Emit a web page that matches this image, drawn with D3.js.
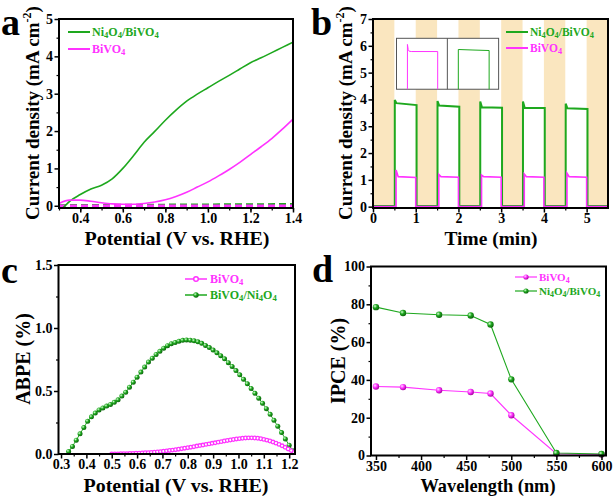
<!DOCTYPE html>
<html>
<head>
<meta charset="utf-8">
<script src="https://cdn.jsdelivr.net/npm/d3@7"></script>
<style>
body { margin: 0; background: #fff; }
text { font-family: "Liberation Serif", "Times New Roman", serif; font-weight: bold; }
</style>
</head>
<body>
<svg id="fig" width="614" height="496"></svg>
<script>
const GREEN = '#1ea81e', PINK = '#ff33ff', STRIPE = '#fae6bf';

// ---- panel a: LSV curves
let lsvNiV = [0.32, 0.35, 0.40, 0.45, 0.50, 0.55, 0.60, 0.65, 0.70, 0.75, 0.80, 0.85, 0.90, 0.95, 1.00, 1.05, 1.10, 1.15, 1.20, 1.25, 1.30, 1.35, 1.40];
let lsvNiJ = [-0.05, 0.12, 0.30, 0.45, 0.55, 0.72, 1.00, 1.34, 1.70, 1.99, 2.29, 2.56, 2.80, 2.99, 3.16, 3.33, 3.49, 3.66, 3.83, 3.96, 4.10, 4.24, 4.38];
let lsvBiV = [0.30, 0.35, 0.40, 0.45, 0.50, 0.55, 0.60, 0.65, 0.70, 0.75, 0.80, 0.85, 0.90, 0.95, 1.00, 1.05, 1.10, 1.15, 1.20, 1.25, 1.30, 1.35, 1.40];
let lsvBiJ = [0.06, 0.15, 0.15, 0.12, 0.08, 0.05, 0.04, 0.04, 0.06, 0.10, 0.16, 0.25, 0.36, 0.50, 0.64, 0.80, 0.97, 1.16, 1.37, 1.58, 1.80, 2.05, 2.32];
let darkV = [0.30, 1.40];
let darkNiJ = [0.01, 0.04];
let darkBiJ = [0.0, 0.0];

// ---- panel b: chopped light
let lightOff = [[0, 0.5], [1, 1.5], [2, 2.5], [3, 3.5], [4, 4.5], [5, 5.5]];
let niOn = [0.51, 1.51, 2.51, 3.51, 4.51];
let niOff = [1.02, 2.02, 3.02, 4.02, 5.02];
let niSpike = [3.98, 3.94, 3.92, 3.92, 3.84];
let niStart = [3.86, 3.77, 3.71, 3.69, 3.67];
let niEnd = [3.79, 3.73, 3.69, 3.68, 3.64];
let biOn = [0.54, 1.54, 2.54, 3.54, 4.54];
let biOff = [1.00, 2.00, 3.00, 4.00, 5.00];
let biSpike = [1.37, 1.20, 1.18, 1.22, 1.25];
let biStart = [1.12, 1.12, 1.12, 1.12, 1.12];
let biEnd = [1.09, 1.10, 1.10, 1.10, 1.10];
let niDark = 0.02, biDark = 0.0;
// inset transients (normalised time / current)
let insetBiT = [0.215, 0.215, 0.23, 0.25, 0.30, 0.81, 0.81];
let insetBiJ = [-0.1, 0.88, 0.78, 0.745, 0.74, 0.74, -0.1];
let insetNiT = [0.214, 0.214, 0.50, 0.815, 0.815];
let insetNiJ = [-0.1, 0.78, 0.77, 0.76, -0.1];

// ---- panel c: ABPE
let abpeNiV = [0.330, 0.345, 0.360, 0.375, 0.390, 0.405, 0.420, 0.435, 0.450, 0.465, 0.480, 0.495, 0.510, 0.525, 0.540, 0.555, 0.570, 0.585, 0.600, 0.615,
  0.630, 0.645, 0.660, 0.675, 0.690, 0.705, 0.720, 0.735, 0.750, 0.765, 0.780, 0.795, 0.810, 0.825, 0.840, 0.855, 0.870, 0.885, 0.900, 0.915,
  0.930, 0.945, 0.960, 0.975, 0.990, 1.005, 1.020, 1.035, 1.050, 1.065, 1.080, 1.095, 1.110, 1.125, 1.140, 1.155, 1.170, 1.185, 1.200, 1.215];
let abpeNi = [0.02, 0.06, 0.11, 0.16, 0.21, 0.26, 0.295, 0.325, 0.35, 0.365, 0.38, 0.393, 0.41, 0.43, 0.46, 0.49, 0.53, 0.57, 0.61, 0.65,
  0.69, 0.73, 0.76, 0.79, 0.815, 0.84, 0.86, 0.875, 0.885, 0.895, 0.902, 0.905, 0.903, 0.898, 0.89, 0.878, 0.862, 0.845, 0.825, 0.803,
  0.78, 0.755, 0.725, 0.695, 0.662, 0.628, 0.593, 0.557, 0.52, 0.482, 0.443, 0.403, 0.36, 0.315, 0.268, 0.22, 0.17, 0.12, 0.07, 0.025];
let abpeBiV = [0.500, 0.512, 0.524, 0.536, 0.548, 0.560, 0.572, 0.584, 0.596, 0.608, 0.620, 0.632, 0.644, 0.656, 0.668, 0.680, 0.692, 0.704, 0.716, 0.728,
  0.740, 0.752, 0.764, 0.776, 0.788, 0.800, 0.812, 0.824, 0.836, 0.848, 0.860, 0.872, 0.884, 0.896, 0.908, 0.920, 0.932, 0.944, 0.956, 0.968,
  0.980, 0.992, 1.004, 1.016, 1.028, 1.040, 1.052, 1.064, 1.076, 1.088, 1.100, 1.112, 1.124, 1.136, 1.148, 1.160, 1.172, 1.184, 1.196, 1.208, 1.220];
let abpeBi = [0.000, 0.001, 0.001, 0.002, 0.002, 0.003, 0.004, 0.005, 0.006, 0.007, 0.008, 0.010, 0.011, 0.013, 0.015, 0.017, 0.019, 0.022, 0.025, 0.028,
  0.031, 0.034, 0.038, 0.042, 0.046, 0.050, 0.054, 0.058, 0.063, 0.067, 0.071, 0.076, 0.080, 0.085, 0.089, 0.094, 0.098, 0.103, 0.107, 0.111,
  0.115, 0.119, 0.122, 0.125, 0.127, 0.128, 0.128, 0.127, 0.125, 0.121, 0.116, 0.110, 0.103, 0.095, 0.086, 0.076, 0.065, 0.053, 0.040, 0.027, 0.012];

// ---- panel d: IPCE
let wavelengths = [350, 380, 420, 455, 477, 500, 550, 600];
let ipceBi = [36.5, 36.2, 34.5, 33.6, 32.8, 21.3, 1.0, 0.5];
let ipceNi = [78.5, 75.4, 74.5, 74.1, 69.3, 40.3, 1.3, 0.8];

const svg = d3.select('#fig');
const defs = svg.append('defs');
[['ballG', '#d8ffd8', GREEN, '#0b5e0b'], ['ballP', '#ffe0ff', PINK, '#a0009a']].forEach(([id, a, b, c]) => {
  let gr = defs.append('radialGradient').attr('id', id).attr('cx', '35%').attr('cy', '35%').attr('r', '70%');
  gr.append('stop').attr('offset', '0%').attr('stop-color', a);
  gr.append('stop').attr('offset', '45%').attr('stop-color', b);
  gr.append('stop').attr('offset', '100%').attr('stop-color', c);
});

// frame, ticks and labels of one panel
let axes = (g, x, y, o) => {
  let [xl, xr] = x.range(), [yb, yt] = y.range();
  let style = (s) => {
    s.select('.domain').remove();
    s.selectAll('.tick line').attr('stroke', '#000').attr('stroke-width', 1.5);
    s.selectAll('.tick text').attr('font-size', 14).attr('fill', '#000')
      .style('font-family', '"Liberation Serif", serif').style('font-weight', 'bold');
  };
  let minor = (s) => { s.select('.domain').remove(); s.selectAll('text').remove();
    s.selectAll('.tick line').attr('stroke', '#000').attr('stroke-width', 1.2); };
  g.append('g').attr('transform', `translate(0,${yb})`)
    .call(d3.axisBottom(x).tickValues(o.xMinor).tickSize(2.5)).call(minor);
  g.append('g').attr('transform', `translate(0,${yb})`)
    .call(d3.axisBottom(x).tickValues(o.xTicks).tickSize(4.5).tickPadding(1).tickFormat(o.xFmt)).call(style);
  g.append('g').attr('transform', `translate(${xl},0)`)
    .call(d3.axisLeft(y).tickValues(o.yMinor).tickSize(2.5)).call(minor);
  g.append('g').attr('transform', `translate(${xl},0)`)
    .call(d3.axisLeft(y).tickValues(o.yTicks).tickSize(4.5).tickPadding(1.5).tickFormat(o.yFmt)).call(style);
  g.append('rect').attr('x', xl).attr('y', yt).attr('width', xr - xl).attr('height', yb - yt)
    .attr('fill', 'none').attr('stroke', '#000').attr('stroke-width', 2);
};

let clip = (id, x, y) => {
  let [xl, xr] = x.range(), [yb, yt] = y.range();
  defs.append('clipPath').attr('id', id).append('rect')
    .attr('x', xl).attr('y', yt).attr('width', xr - xl).attr('height', yb - yt);
  return `url(#${id})`;
};

// text with chemical subscripts (digits smaller, slightly lowered)
let chem = (t, s) => {
  let low = false;
  s.split(/(\d)/).filter(p => p).forEach(p => {
    let isD = /\d/.test(p);
    let ts = t.append('tspan').text(p);
    if (isD) { ts.attr('font-size', '72%'); if (!low) ts.attr('dy', 1.5); low = true; }
    else if (low) { ts.attr('dy', -1.5); low = false; }
  });
  return t;
};

let yTitleCurrent = (g, cx, cy) => {
  let t = g.append('text').attr('transform', `translate(${cx},${cy}) rotate(-90)`)
    .attr('text-anchor', 'middle').attr('font-size', 19);
  t.append('tspan').text('Current density (mA cm');
  t.append('tspan').attr('font-size', 12).attr('dy', -8).text('-2');
  t.append('tspan').attr('dy', 8).text(')');
};

let title = (g, txt, cx, cy, rot, len) => {
  let t = g.append('text')
    .attr('transform', `translate(${cx},${cy})` + (rot ? ' rotate(-90)' : ''))
    .attr('text-anchor', 'middle').attr('font-size', rot ? 20 : 19).text(txt);
  if (len) t.attr('textLength', len).attr('lengthAdjust', 'spacingAndGlyphs');
  return t;
};

let letter = (txt, x, y) => svg.append('text').attr('x', x).attr('y', y).attr('font-size', 38).text(txt);

let lineLegend = (g, x, y, color, label, marker, fs = 12) => {
  g.append('line').attr('x1', x).attr('x2', x + 22).attr('y1', y).attr('y2', y)
    .attr('stroke', color).attr('stroke-width', marker ? 1.2 : 2);
  if (marker) g.append('circle').attr('cx', x + 11).attr('cy', y).attr('r', 2.6).attr('fill', marker);
  chem(g.append('text').attr('x', x + 24).attr('y', y + 4).attr('font-size', fs).attr('fill', color), label);
};

// ================= a
{
  let g = svg.append('g');
  let x = d3.scaleLinear().domain([0.3, 1.4]).range([59, 293]);
  let y = d3.scaleLinear().domain([-0.06, 5]).range([208, 19]);
  let cp = clip('clipA', x, y);
  let line = d3.line().x(d => x(d[0])).y(d => y(d[1])).curve(d3.curveMonotoneX);
  let data = g.append('g').attr('clip-path', cp);
  data.append('path').datum(d3.zip(darkV, darkNiJ)).attr('d', line).attr('fill', 'none')
    .attr('stroke', GREEN).attr('stroke-width', 2.5).attr('stroke-dasharray', '7,4');
  data.append('path').datum(d3.zip(darkV, darkBiJ)).attr('d', line).attr('fill', 'none')
    .attr('stroke', PINK).attr('stroke-width', 2.5).attr('stroke-dasharray', '7,4');
  data.append('path').datum(d3.zip(lsvNiV, lsvNiJ)).attr('d', line).attr('fill', 'none')
    .attr('stroke', GREEN).attr('stroke-width', 1.6);
  data.append('path').datum(d3.zip(lsvBiV, lsvBiJ)).attr('d', line).attr('fill', 'none')
    .attr('stroke', PINK).attr('stroke-width', 1.6);
  axes(g, x, y, {
    xTicks: [0.4, 0.6, 0.8, 1.0, 1.2, 1.4], xMinor: d3.range(0.3, 1.41, 0.1), xFmt: d3.format('.1f'),
    yTicks: [0, 1, 2, 3, 4, 5], yMinor: d3.range(0.5, 5, 1), yFmt: d3.format('d')
  });
  lineLegend(g, 68, 32, GREEN, 'Ni4O4/BiVO4');
  lineLegend(g, 68, 49, PINK, 'BiVO4');
  yTitleCurrent(g, 39, 113);
  title(g, 'Potential (V vs. RHE)', 177, 245, false, 185);
  letter('a', 1, 35);
}

// ================= b
{
  let g = svg.append('g');
  let x = d3.scaleLinear().domain([0, 5.5]).range([373, 608]);
  let y = d3.scaleLinear().domain([-0.05, 7]).range([208, 19]);
  let cp = clip('clipB', x, y);
  let data = g.append('g').attr('clip-path', cp);
  data.selectAll('rect.dark').data(lightOff).enter().append('rect')
    .attr('x', d => x(d[0])).attr('width', d => x(d[1]) - x(d[0]))
    .attr('y', y.range()[1]).attr('height', y.range()[0] - y.range()[1]).attr('fill', STRIPE);
  let line = d3.line().x(d => x(d[0])).y(d => y(d[1]));
  let trace = (on, off, spike, start, end, base, decay) => {
    let pts = [[0, base]];
    on.forEach((t, i) => {
      pts.push([t, base], [t, spike[i]], [t + decay, start[i]], [off[i], end[i]], [off[i], base]);
    });
    pts.push([5.5, base]);
    return pts;
  };
  data.append('path').datum(trace(niOn, niOff, niSpike, niStart, niEnd, niDark, 0.04)).attr('d', line)
    .attr('fill', 'none').attr('stroke', GREEN).attr('stroke-width', 2);
  data.append('path').datum(trace(biOn, biOff, biSpike, biStart, biEnd, biDark, 0.05)).attr('d', line)
    .attr('fill', 'none').attr('stroke', PINK).attr('stroke-width', 1.6);

  // inset
  let ix0 = x(0.55), ix1 = x(2.94), iy0 = y(6.28), iy1 = y(4.38), imid = x(1.74);
  g.append('rect').attr('x', ix0).attr('y', iy0).attr('width', ix1 - ix0).attr('height', iy1 - iy0)
    .attr('fill', '#fff').attr('stroke', '#555').attr('stroke-width', 1);
  g.append('line').attr('x1', imid).attr('x2', imid).attr('y1', iy0).attr('y2', iy1).attr('stroke', '#555');
  let iy = d3.scaleLinear().domain([0, 1]).range([iy1, iy0]);
  let ixL = d3.scaleLinear().domain([0, 1]).range([ix0, imid]);
  let ixR = d3.scaleLinear().domain([0, 1]).range([imid, ix1]);
  defs.append('clipPath').attr('id', 'clipInset').append('rect')
    .attr('x', ix0).attr('y', iy0).attr('width', ix1 - ix0).attr('height', iy1 - iy0);
  let ig = g.append('g').attr('clip-path', 'url(#clipInset)');
  ig.append('path').datum(d3.zip(insetBiT, insetBiJ))
    .attr('d', d3.line().x(d => ixL(d[0])).y(d => iy(d[1]))).attr('fill', 'none').attr('stroke', PINK).attr('stroke-width', 1);
  ig.append('path').datum(d3.zip(insetNiT, insetNiJ))
    .attr('d', d3.line().x(d => ixR(d[0])).y(d => iy(d[1]))).attr('fill', 'none').attr('stroke', GREEN).attr('stroke-width', 1);

  axes(g, x, y, {
    xTicks: [0, 1, 2, 3, 4, 5], xMinor: d3.range(0.5, 5.5, 1), xFmt: d3.format('d'),
    yTicks: [0, 1, 2, 3, 4, 5, 6, 7], yMinor: d3.range(0.5, 7, 1), yFmt: d3.format('d')
  });
  lineLegend(g, 506, 32, GREEN, 'Ni4O4/BiVO4', null, 11.5);
  lineLegend(g, 506, 48, PINK, 'BiVO4', null, 11.5);
  yTitleCurrent(g, 352, 113);
  title(g, 'Time (min)', 491, 245, false, 93);
  letter('b', 311, 35);
}

// ================= c
{
  let g = svg.append('g');
  let x = d3.scaleLinear().domain([0.29, 1.223]).range([58.5, 295]);
  let y = d3.scaleLinear().domain([0, 1.5]).range([454, 265]);
  let cp = clip('clipC', x, y);
  let line = d3.line().x(d => x(d[0])).y(d => y(d[1])).curve(d3.curveMonotoneX);
  let data = g.append('g').attr('clip-path', cp);
  let bi = d3.zip(abpeBiV, abpeBi), ni = d3.zip(abpeNiV, abpeNi);
  data.append('path').datum(ni).attr('d', line).attr('fill', 'none').attr('stroke', GREEN).attr('stroke-width', 1);
  data.selectAll('circle.ni').data(ni).enter().append('circle')
    .attr('cx', d => x(d[0])).attr('cy', d => y(d[1])).attr('r', 2.5).attr('fill', 'url(#ballG)');
  data.selectAll('circle.bi').data(bi).enter().append('circle')
    .attr('cx', d => x(d[0])).attr('cy', d => y(d[1])).attr('r', 1.8)
    .attr('fill', '#fff').attr('stroke', PINK).attr('stroke-width', 1.3);
  axes(g, x, y, {
    xTicks: d3.range(0.3, 1.21, 0.1), xMinor: d3.range(0.35, 1.21, 0.1), xFmt: d3.format('.1f'),
    yTicks: [0, 0.5, 1.0, 1.5], yMinor: [0.25, 0.75, 1.25], yFmt: d3.format('.1f')
  });
  g.append('line').attr('x1', 185).attr('x2', 207).attr('y1', 279).attr('y2', 279).attr('stroke', PINK).attr('stroke-width', 1.5);
  g.append('circle').attr('cx', 196).attr('cy', 279).attr('r', 2.3).attr('fill', '#fff').attr('stroke', PINK).attr('stroke-width', 1.5);
  chem(g.append('text').attr('x', 210).attr('y', 283).attr('font-size', 12).attr('fill', PINK), 'BiVO4');
  g.append('line').attr('x1', 185).attr('x2', 207).attr('y1', 295).attr('y2', 295).attr('stroke', GREEN).attr('stroke-width', 1.5);
  g.append('circle').attr('cx', 196).attr('cy', 295).attr('r', 2.7).attr('fill', 'url(#ballG)');
  chem(g.append('text').attr('x', 210).attr('y', 299).attr('font-size', 12).attr('fill', GREEN), 'BiVO4/Ni4O4');
  title(g, 'ABPE (%)', 30, 359, true);
  title(g, 'Potential (V vs. RHE)', 176, 491.5, false, 185);
  letter('c', 1, 283);
}

// ================= d
{
  let g = svg.append('g');
  let x = d3.scaleLinear().domain([344.5, 605]).range([371, 606]);
  let y = d3.scaleLinear().domain([0, 100]).range([455.5, 266.5]);
  let line = d3.line().x(d => x(d[0])).y(d => y(d[1]));
  let bi = d3.zip(wavelengths, ipceBi), ni = d3.zip(wavelengths, ipceNi);
  g.append('path').datum(bi).attr('d', line).attr('fill', 'none').attr('stroke', PINK).attr('stroke-width', 1.1);
  g.append('path').datum(ni).attr('d', line).attr('fill', 'none').attr('stroke', GREEN).attr('stroke-width', 1.1);
  g.selectAll('circle.bi').data(bi).enter().append('circle')
    .attr('cx', d => x(d[0])).attr('cy', d => y(d[1])).attr('r', 3.2).attr('fill', 'url(#ballP)');
  g.selectAll('circle.ni').data(ni).enter().append('circle')
    .attr('cx', d => x(d[0])).attr('cy', d => y(d[1])).attr('r', 3.2).attr('fill', 'url(#ballG)');
  axes(g, x, y, {
    xTicks: d3.range(350, 601, 50), xMinor: d3.range(375, 600, 50), xFmt: d3.format('d'),
    yTicks: d3.range(0, 101, 20), yMinor: d3.range(10, 100, 20), yFmt: d3.format('d')
  });
  lineLegend(g, 515, 277, PINK, 'BiVO4', 'url(#ballP)', 11);
  lineLegend(g, 515, 291, GREEN, 'Ni4O4/BiVO4', 'url(#ballG)', 11);
  title(g, 'IPCE (%)', 345, 361, true);
  title(g, 'Wavelength (nm)', 488, 492, false, 135);
  letter('d', 312, 282);
}
</script>
</body>
</html>
